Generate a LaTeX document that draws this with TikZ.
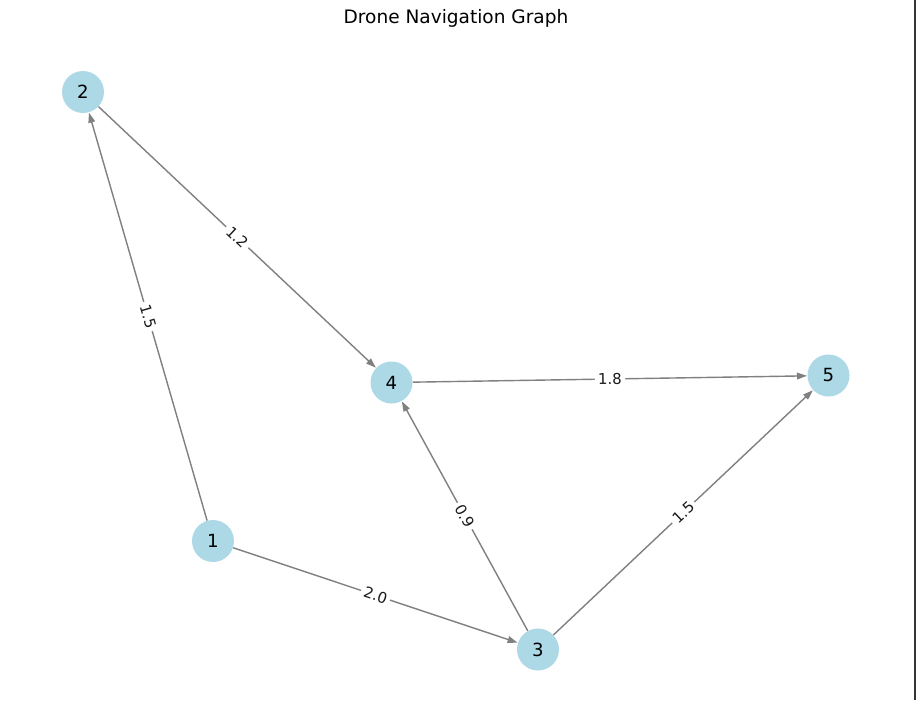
\documentclass[tikz,border=0pt]{standalone}
\usepackage{fontspec}
\setmainfont{DejaVu Sans}
\usetikzlibrary{arrows.meta}
\definecolor{nodeblue}{HTML}{ADD8E6}
\definecolor{edgegray}{HTML}{808080}

\begin{document}
\begin{tikzpicture}[x=0.75pt, y=-0.75pt,
		waypoint/.style={circle, fill=nodeblue, minimum size=31.5pt, inner sep=0pt, font=\fontsize{13.6}{16}\selectfont},
		flight/.style={draw=edgegray, line width=1.05pt, -{Triangle[length=7.5pt, width=5pt]}, shorten >=0.2pt},
		weight/.style={fill=white, inner sep=2.4pt, sloped, font=\fontsize{11.2}{13}\selectfont, text=black!90}]
			%%%%% START %%%%%
			
			\useasboundingbox (0, 0) rectangle (917, 700);
			\fill[white] (0, 0) rectangle (917, 700);
			\draw[line width=1.5pt, color=black!80] (915, 0) -- (915, 700);
			
			\node[font=\fontsize{13.9}{16}\selectfont] (title) at (456, 18) {Drone Navigation Graph};
			
			\node[waypoint] (n1) at (213, 541) {1};
			\node[waypoint] (n2) at (83, 92) {2};
			\node[waypoint] (n3) at (538, 649.5) {3};
			\node[waypoint] (n4) at (391.5, 382.5) {4};
			\node[waypoint] (n5) at (828.5, 375.5) {5};
			
			\draw[flight] (n1) -- node[weight] {1.5} (n2);
			\draw[flight] (n1) -- node[weight] {2.0} (n3);
			\draw[flight] (n2) -- node[weight] {1.2} (n4);
			\draw[flight] (n3) -- node[weight] {0.9} (n4);
			\draw[flight] (n3) -- node[weight] {1.5} (n5);
			\draw[flight] (n4) -- node[weight] {1.8} (n5);
			
			%%%%% END %%%%%
		\end{tikzpicture}
\end{document}
